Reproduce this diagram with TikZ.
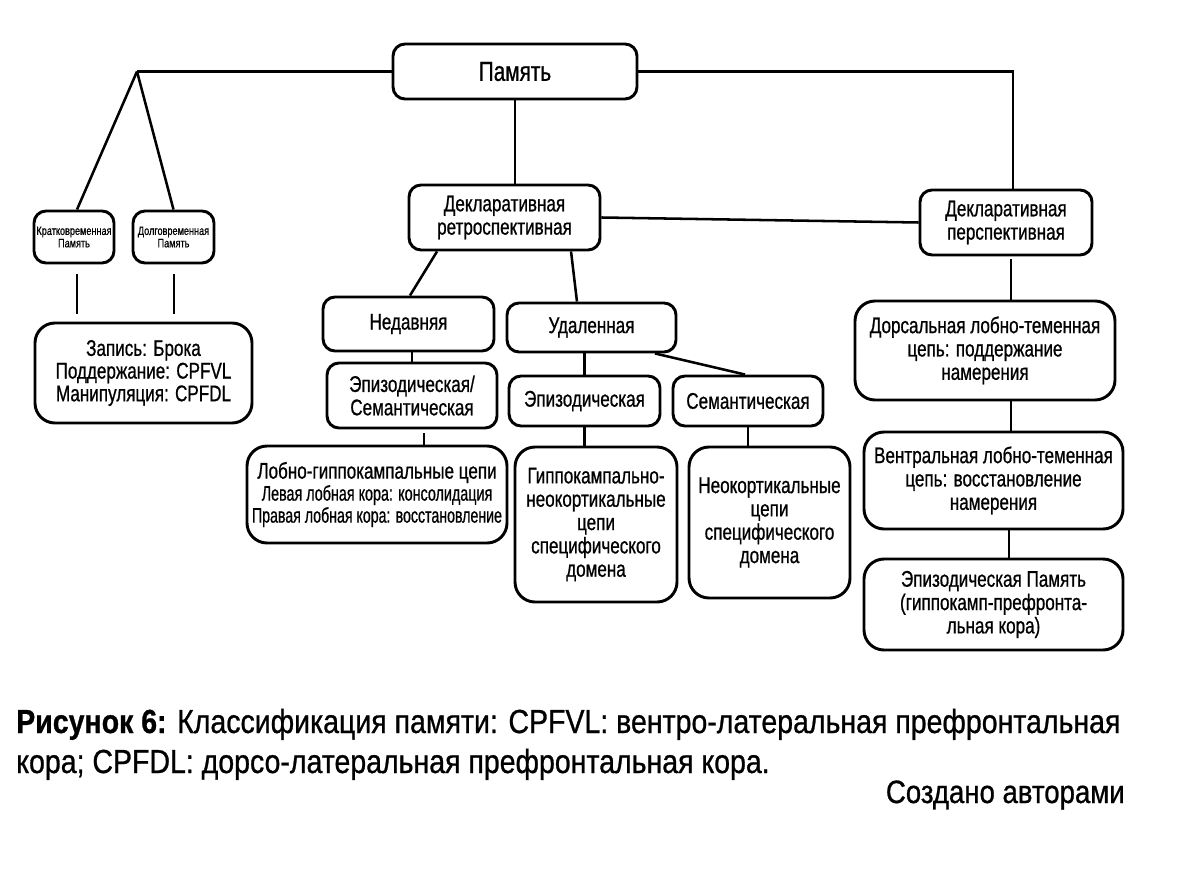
\documentclass[tikz,border=0pt]{standalone}
\usepackage{graphicx}
\usepackage{fontspec}
\setmainfont{Liberation Sans}[FakeStretch=0.753, FakeBold=0.8]
\newfontfamily\capfont{Liberation Sans}[FakeStretch=0.855, FakeBold=0.8]
\begin{document}
\begin{tikzpicture}[x=0.75pt,y=-0.75pt,
  box/.style={draw, line width=2.2pt, rounded corners=9pt, align=center, inner sep=0pt,
    font=\fontsize{17}{17.5}\selectfont},
  bigbox/.style={box, rounded corners=15pt},
  smallbox/.style={box, font=\fontsize{9.1}{9.3}\selectfont},
  conn/.style={line width=1.9pt},
  captext/.style={inner sep=0pt, font=\capfont\fontsize{25}{30}\selectfont}]
\useasboundingbox (0,0) rectangle (1202,880);
% nodes
\node[box, minimum width=183pt, minimum height=41.25pt, font=\fontsize{20.7}{21}\selectfont] (mem) at (515,71.5) {Память};
\node[box, minimum width=143.25pt, minimum height=48.75pt] (ret) at (504.5,217.5) {Декларативная\\ретроспективная};
\node[box, minimum width=129pt, minimum height=48.75pt] (per) at (1006,222.5) {Декларативная\\перспективная};
\node[smallbox, minimum width=60pt, minimum height=39pt] (kr) at (74,237) {Кратковременная\\Память};
\node[smallbox, minimum width=60.75pt, minimum height=39pt] (dl) at (173.5,237) {Долговременная\\Память};
\node[bigbox, minimum width=162.75pt, minimum height=75pt, font=\fontsize{17}{17}\selectfont] (zap) at (143.5,373) {Запись: Брока\\Поддержание: CPFVL\\Манипуляция: CPFDL};
\node[box, minimum width=128.25pt, minimum height=40.5pt] (ned) at (408.5,324) {Недавняя};
\node[box, minimum width=126.75pt, minimum height=36.75pt] (ud) at (591.5,327.5) {Удаленная};
\node[box, minimum width=127.5pt, minimum height=48.75pt] (es) at (412,395.5) {Эпизодическая/\\Семантическая};
\node[bigbox, minimum width=195pt, minimum height=72.75pt, font=\fontsize{17}{16.5}\selectfont] (lob) at (377,494.5) {Лобно-гиппокампальные цепи\\\scalebox{0.84}[0.93]{Левая лобная кора: консолидация}\\\scalebox{0.83}[0.93]{Правая лобная кора: восстановление}};
\node[box, minimum width=113.25pt, minimum height=37.5pt] (ep) at (584.5,401) {Эпизодическая};
\node[box, minimum width=112.5pt, minimum height=37.5pt] (sem) at (748,401) {Семантическая};
\node[bigbox, minimum width=121.5pt, minimum height=116.25pt] (gip) at (596,524.5) {Гиппокампально-\\неокортикальные\\цепи\\специфического\\домена};
\node[bigbox, minimum width=120.75pt, minimum height=113.25pt] (neo) at (769.5,522.5) {Неокортикальные\\цепи\\специфического\\домена};
\node[bigbox, minimum width=195pt, minimum height=74.25pt] (dor) at (985,350.5) {Дорсальная лобно-теменная\\цепь: поддержание\\намерения};
\node[bigbox, minimum width=194.25pt, minimum height=72.75pt] (ven) at (993.5,480.5) {Вентральная лобно-теменная\\цепь: восстановление\\намерения};
\node[bigbox, minimum width=194.25pt, minimum height=68.25pt] (epm) at (993.5,604.5) {Эпизодическая Память\\(гиппокамп-префронта-\\льная кора)};
% helper coordinates
\coordinate (apex) at (137,71.5);
\coordinate (rc) at (1013,71.5);
\coordinate (k1) at ([xshift=2.25pt,yshift=-7.5pt]kr.south);
\coordinate (d1) at ([xshift=0.4pt,yshift=-7.5pt]dl.south);
\coordinate (r1) at ([xshift=-50.6pt]ret.south);
\coordinate (r2) at ([xshift=49.9pt]ret.south);
\coordinate (u1) at ([xshift=47.6pt]ud.south);
\coordinate (e1) at ([xshift=9pt,yshift=-3pt]es.south);
\coordinate (p1) at ([xshift=3.75pt,yshift=-2.25pt]per.south);
\coordinate (o1) at ([xshift=19.5pt]dor.south);
\coordinate (v1) at ([xshift=11.6pt]ven.south);
% connectors
\draw[conn] (mem.west) -- (apex);
\draw[conn] (apex) -- ([xshift=2.25pt]kr.north);
\draw[conn] (apex) -- (dl.north);
\draw[conn] (mem.east) -- (rc) -- (rc |- per.north);
\draw[conn] (mem.south) -- (mem.south |- ret.north);
\draw[conn] (ret.east) -- (per.west);
\draw[conn] (k1) -- ++(0,40);
\draw[conn] (d1) -- ++(0,40);
\draw[conn] (r1) -- ([xshift=1.1pt]ned.north);
\draw[conn] (r2) -- ([xshift=-10.9pt]ud.north);
\draw[conn] (ned.south -| es.north) -- (es.north);
\draw[conn] (e1) -- (e1 |- lob.north);
\draw[conn] (ud.south -| ep.north) -- (ep.north);
\draw[conn] (u1) -- ([xshift=-2.25pt]sem.north);
\draw[conn] (ep.south) -- (ep.south |- gip.north);
\draw[conn] (sem.south) -- (sem.south |- neo.north);
\draw[conn] (p1) -- (p1 |- dor.north);
\draw[conn] (o1) -- (o1 |- ven.north);
\draw[conn] (v1) -- (v1 |- epm.north);
% caption
\node[captext, anchor=base west] (cap1) at (16,733) {\textbf{Рисунок 6:} Классификация памяти: CPFVL: вентро-латеральная префронтальная};
\node[captext, anchor=base west] (cap2) at (16,773) {кора; CPFDL: дорсо-латеральная префронтальная кора.};
\node[captext, anchor=base east, font=\capfont\fontsize{24.2}{28}\selectfont] (cap3) at (1125,803) {Создано авторами};
\end{tikzpicture}
\end{document}
